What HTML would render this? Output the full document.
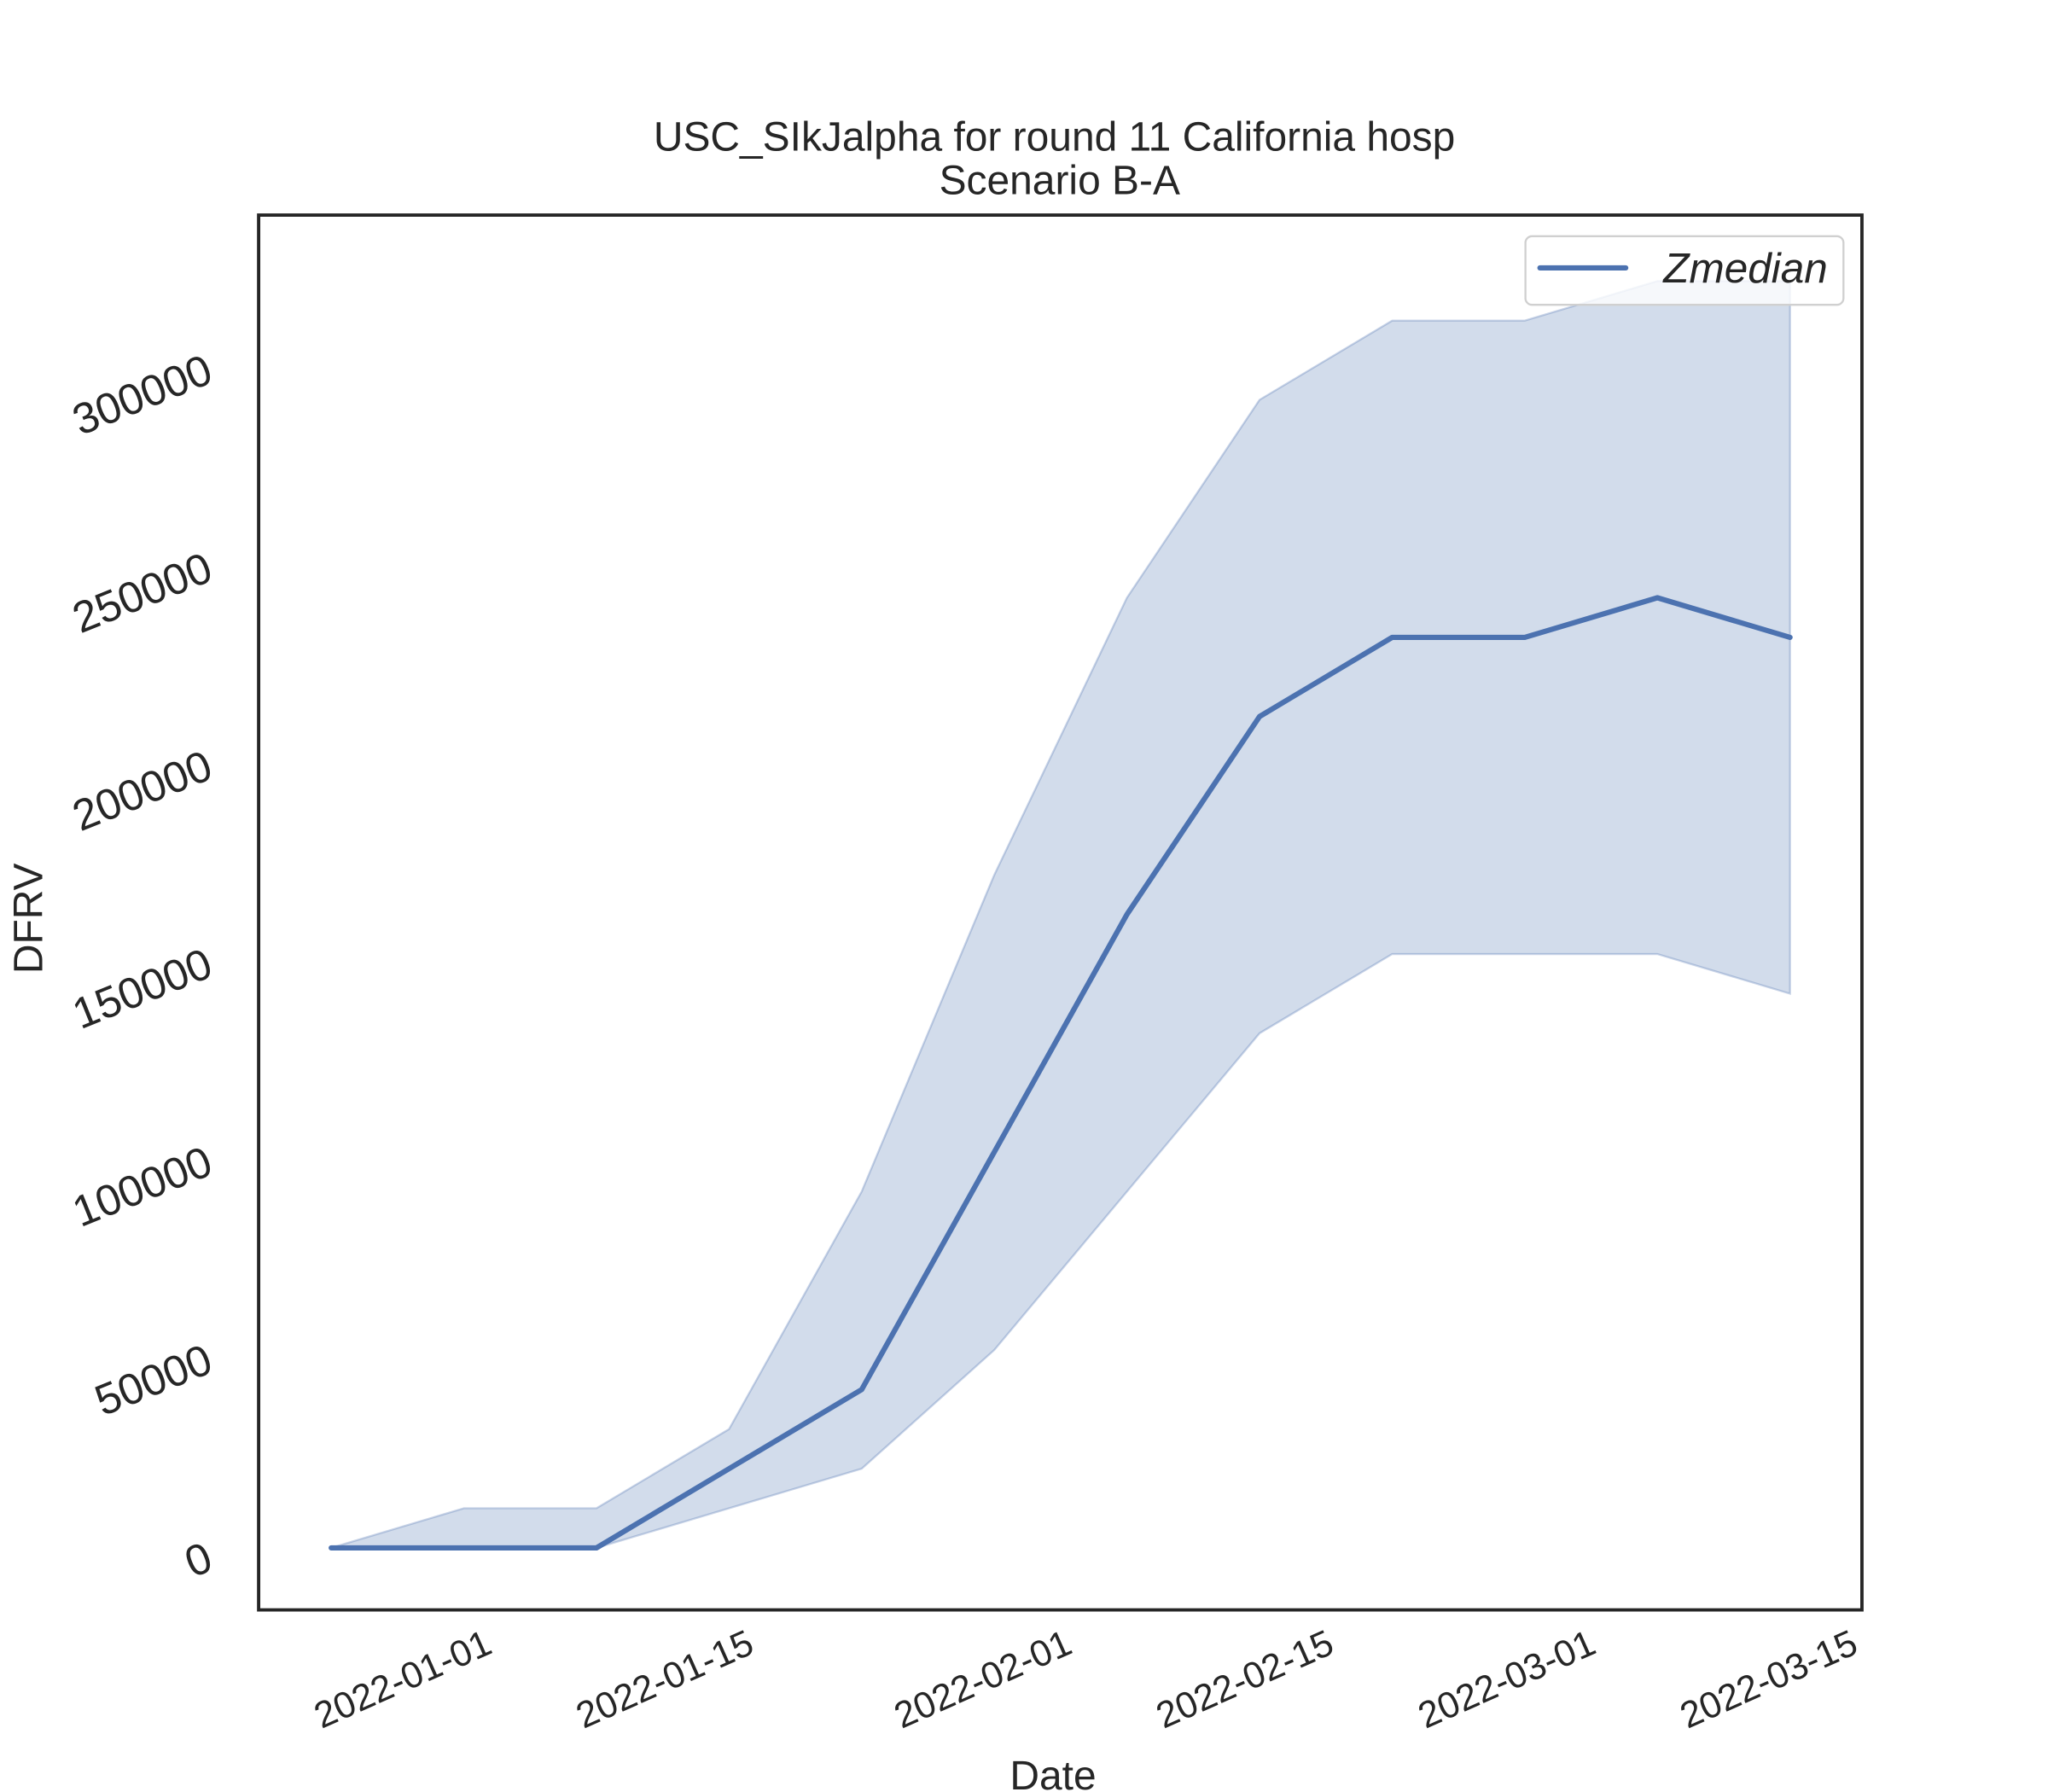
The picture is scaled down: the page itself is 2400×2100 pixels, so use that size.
<!DOCTYPE html>
<html><head><meta charset="utf-8"><style>html,body{margin:0;padding:0;background:#fff}svg{display:block}</style></head>
<body>
<svg id="chart" width="2400" height="2100" viewBox="0 0 1552 1358" preserveAspectRatio="none" xmlns="http://www.w3.org/2000/svg" font-family="Liberation Sans, DejaVu Sans, sans-serif">
<rect width="1552" height="1358" fill="#fff"/>
<text x="799" y="114" font-size="31" text-anchor="middle" fill="#262626">USC_SIkJalpha for round 11 California hosp</text>
<text x="803" y="147" font-size="31" text-anchor="middle" fill="#262626">Scenario B-A</text>
<g id="plot"></g>
<rect x="196" y="163" width="1215" height="1057" fill="none" stroke="#262626" stroke-width="2.5"/>
<g id="yticks"></g><g id="xticks"></g>
<text transform="translate(32,696) rotate(-90)" font-size="31" text-anchor="middle" fill="#262626">DFRV</text>
<text x="798" y="1356" font-size="31" text-anchor="middle" fill="#262626">Date</text>
<g>
<rect x="1156" y="179" width="241" height="52" rx="5" fill="#fff" fill-opacity="0.8" stroke="#d0d0d0" stroke-width="1.5"/>
<line x1="1167" y1="203" x2="1232" y2="203" stroke="#4c72b0" stroke-width="4" stroke-linecap="round"/>
<text x="1385" y="214" font-size="32" font-style="italic" text-anchor="end" fill="#262626">Zmedian</text>
</g>
</svg>
<script>
const weeks = [0,1,2,3,4,5,6,7,8,9,10,11];
const median = [0,0,0,20000,40000,100000,160000,210000,230000,230000,240000,230000];
const upper = [0,10000,10000,30000,90000,170000,240000,290000,310000,310000,320000,320000];
const lower = [0,0,0,10000,20000,50000,90000,130000,150000,150000,150000,140000];
const yTicks = [0,50000,100000,150000,200000,250000,300000];
const xTickLabels = ["2022-01-01","2022-01-15","2022-02-01","2022-02-15","2022-03-01","2022-03-15"];
const xTickDays = [0,14,31,45,59,73];

const NS="http://www.w3.org/2000/svg";
const xs = w => 251 + w*100.5;
const ys = v => 1173 - v*0.003;
const xd = d => 305 + d*14.18;
const plot=document.getElementById('plot');
let dArea = weeks.map((w,i)=>(i?'L':'M')+xs(w)+','+ys(upper[i])).join('');
for(let i=weeks.length-1;i>=0;i--) dArea+='L'+xs(weeks[i])+','+ys(lower[i]);
dArea+='Z';
const area=document.createElementNS(NS,'path');
area.setAttribute('d',dArea);area.setAttribute('fill','#4c72b0');area.setAttribute('fill-opacity','0.25');
area.setAttribute('stroke','#4c72b0');area.setAttribute('stroke-opacity','0.3');area.setAttribute('stroke-width','1.5');


plot.appendChild(area);
const line=document.createElementNS(NS,'path');
line.setAttribute('d',weeks.map((w,i)=>(i?'L':'M')+xs(w)+','+ys(median[i])).join(''));
line.setAttribute('fill','none');line.setAttribute('stroke','#4c72b0');line.setAttribute('stroke-width','4');line.setAttribute('stroke-linejoin','round');line.setAttribute('stroke-linecap','round');


plot.appendChild(line);
const yg=document.getElementById('yticks');
yTicks.forEach(v=>{
  const t=document.createElementNS(NS,'text');
  const y=ys(v)+16;
  t.setAttribute('x',163);t.setAttribute('y',y);t.setAttribute('text-anchor','end');t.setAttribute('font-size','33');t.setAttribute('fill','#262626');
  t.setAttribute('transform','rotate(-22 163 '+y+')');
  t.textContent=String(v);
  
  
  yg.appendChild(t);
});
const xg=document.getElementById('xticks');
xTickLabels.forEach((lab,i)=>{
  const t=document.createElementNS(NS,'text');
  const cx=xd(xTickDays[i]), cy=1282;
  t.setAttribute('x',cx);t.setAttribute('y',cy);t.setAttribute('text-anchor','middle');t.setAttribute('font-size','28');t.setAttribute('fill','#262626');
  t.setAttribute('transform','rotate(-24 '+cx+' '+(cy-10)+')');
  t.textContent=lab;
  
  
  xg.appendChild(t);
});
</script>
</body></html>
